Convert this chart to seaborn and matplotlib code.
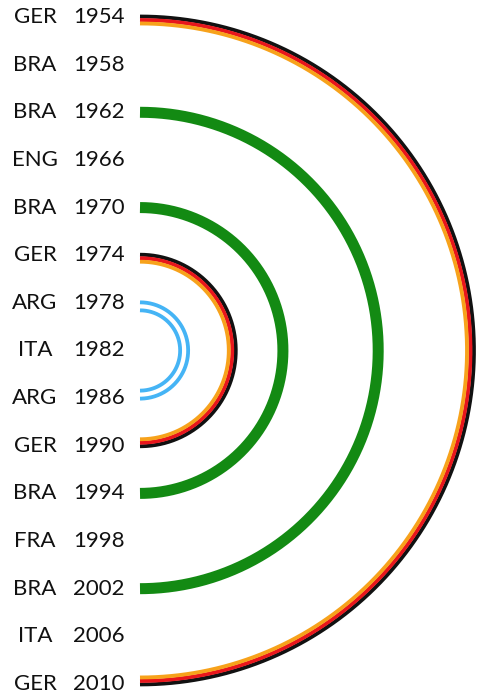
import numpy as np
import pandas as pd
import seaborn as sns
import matplotlib
matplotlib.use("Agg")
import matplotlib.pyplot as plt

# ---- data ----
teams = ["GER", "BRA", "BRA", "ENG", "BRA", "GER", "ARG", "ITA",
         "ARG", "GER", "BRA", "FRA", "BRA", "ITA", "GER"]
years = [1954, 1958, 1962, 1966, 1970, 1974, 1978, 1982,
         1986, 1990, 1994, 1998, 2002, 2006, 2010]
arc_team = ["GER", "BRA", "BRA", "GER", "ARG"]
arc_start = [1954, 1962, 1970, 1974, 1978]
arc_end = [2010, 2002, 1994, 1990, 1986]

# ---- styles ----
stripe_styles = {
    "GER": [("#111111", 0.5), ("#e8161c", -3.0), ("#f7a21b", -6.5)],
    "BRA": [("#138a13", 0.0)],
    "ARG": [("#45b4f5", 0.5), ("#45b4f5", -7.5)],
}
stripe_lw_px = {"GER": 3.8, "BRA": 11.0, "ARG": 3.8}

sns.set_theme(style="white")
plt.rcParams["font.family"] = ["Lato", "DejaVu Sans"]

W, H = 485, 700
S = 47.64          # pixels per row
top_px = 17.0      # first row centre
cx_px = 140.0      # arc origin x

fig = plt.figure(figsize=(W / 100, H / 100), dpi=100)
ax = fig.add_axes([0, 0, 1, 1])
ax.set_xlim(-cx_px / S, (W - cx_px) / S)
ax.set_ylim((H - top_px) / S, -top_px / S)
ax.axis("off")

row_of = {y: i for i, y in enumerate(years)}

for t, y0, y1 in zip(arc_team, arc_start, arc_end):
    i, j = row_of[y0], row_of[y1]
    cy = (i + j) / 2.0
    r = (j - i) / 2.0
    theta = np.linspace(0, np.pi, 400)
    for color, off_px in stripe_styles[t]:
        rr = r + off_px / S
        df = pd.DataFrame({"x": rr * np.sin(theta),
                           "y": cy - rr * np.cos(theta)})
        sns.lineplot(data=df, x="x", y="y", sort=False, estimator=None,
                     color=color, lw=stripe_lw_px[t] * 0.72,
                     solid_capstyle="butt", ax=ax)

for i, (tm, yr) in enumerate(zip(teams, years)):
    ax.text((35 - cx_px) / S, i, tm, ha="center", va="center",
            fontsize=16, color="#111111")
    ax.text((99 - cx_px) / S, i, str(yr), ha="center", va="center",
            fontsize=16, color="#111111")

ax.set_xlim(-cx_px / S, (W - cx_px) / S)
ax.set_ylim((H - top_px) / S, -top_px / S)
fig.savefig("out.png", dpi=100)
